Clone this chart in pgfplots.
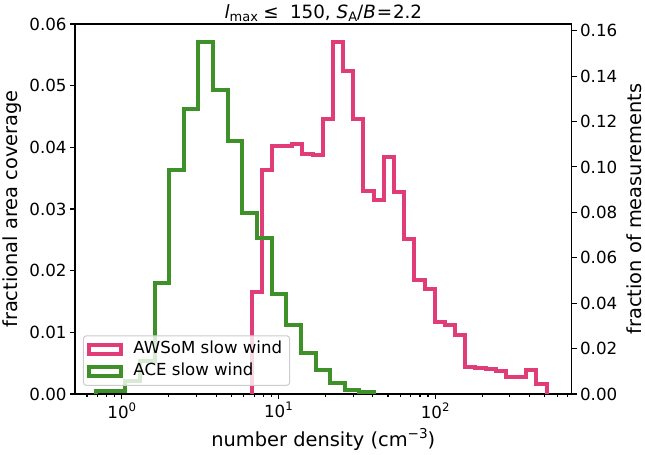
\documentclass[border=0pt]{standalone}
\usepackage{fontspec}
\setmainfont{DejaVu Sans}
\usepackage{pgfplots}
\pgfplotsset{compat=1.18}
\usetikzlibrary{calc}
\definecolor{awsom}{RGB}{224,60,120}
\definecolor{ace}{RGB}{61,145,40}
\newcommand{\sx}[1]{10\raisebox{7bp}{\fontsize{11.7bp}{12bp}\selectfont #1}}
\newcommand{\sub}[1]{\raisebox{-3.2bp}{\fontsize{13bp}{13bp}\selectfont #1}}
\begin{document}
\begin{tikzpicture}
\pgfplotsset{
  every axis/.append style={
    scale only axis, width=496.7bp, height=370bp,
    xmode=log, xmin=0.503, xmax=744,
    axis line style={line width=1.1bp, black},
    every tick/.style={line width=1.1bp, black},
    major tick length=4.9bp, minor tick length=2.8bp,
    tick align=outside,
    scaled ticks=false,
    ticklabel style={font=\fontsize{16.7bp}{20bp}\selectfont},
    /pgf/number format/assume math mode=true,
    label style={font=\fontsize{19.4bp}{23bp}\selectfont},
  },
  every axis title/.style={at={(axis description cs:0.5,1.0162)}, anchor=base, font=\fontsize{18.3bp}{20bp}\selectfont},
  hist/.style={const plot mark left, no markers, line width=4bp, line join=miter},
}
\begin{axis}[
  ymin=0, ymax=0.06,
  xtick={1,10,100},
  xticklabels={\sx{0},\sx{1},\sx{2}},
  minor xtick={0.6,0.7,0.8,0.9,2,3,4,5,6,7,8,9,20,30,40,50,60,70,80,90,200,300,400,500,600,700},
  xtick pos=left, ytick pos=left,
  ytick={0,0.01,0.02,0.03,0.04,0.05,0.06},
  yticklabel style={/pgf/number format/.cd, fixed, fixed zerofill, precision=2},
  xlabel={number density (cm\raisebox{8bp}{\fontsize{13.6bp}{14bp}\selectfont −3})},
  xlabel style={at={(axis description cs:0.5,-0.1424)}, anchor=base},
  ylabel={fractional area coverage},
  ylabel style={at={(axis description cs:-0.1148,0.5)}, anchor=base, rotate=0},
  title={\textit{l}\sub{max}\hspace{0.3em}≤\hspace{0.3em} 150, \textit{S}\sub{A}/\textit{B}\hspace{0.05em}=\hspace{0.05em}2.2},
]
\coordinate (SW) at (rel axis cs:0,0);
\coordinate (NE) at (rel axis cs:1,1);
\addplot[hist, awsom] coordinates {
(6.730,0) (6.730,0.0166) (7.816,0.0364) (9.077,0.0402) (10.540,0.0402) (12.241,0.0406)
(14.215,0.0390) (16.508,0.0387) (19.171,0.0446) (22.264,0.0571) (25.855,0.0523)
(30.026,0.0446) (34.870,0.0329) (40.495,0.0314) (47.027,0.0384) (54.613,0.0327)
(63.423,0.0252) (73.654,0.0185) (85.536,0.0170) (99.335,0.0116) (115.36,0.0112)
(133.97,0.0096) (155.58,0.0044) (180.68,0.0042) (209.82,0.0040) (243.67,0.0038)
(282.98,0.0027) (328.63,0.0027) (381.64,0.0039) (443.2,0.0016) (514.69,0)
};
\end{axis}
\begin{axis}[
  ymin=0, ymax=0.16295,
  axis x line=none,
  axis y line*=right,
  ytick={0,0.02,0.04,0.06,0.08,0.10,0.12,0.14,0.16},
  yticklabel style={/pgf/number format/.cd, fixed, fixed zerofill, precision=2},
  ylabel={fraction of measurements},
  ylabel style={at={(axis description cs:1.1409,0.5)}, anchor=base, rotate=0},
  legend cell align=left,
  legend image code/.code={\draw[#1, line width=4bp, fill=none, sharp corners, line join=miter] (0bp,-4.5bp) rectangle (32bp,4.5bp);},
  legend style={at={(axis description cs:0.016,0.022)}, anchor=south west,
    draw=black!20, line width=1bp, rounded corners=3bp, fill=white, fill opacity=0.8, text opacity=1,
    font=\fontsize{16.6bp}{19bp}\selectfont,
    inner xsep=4bp, inner ysep=2.5bp, row sep=0bp,
    nodes={inner sep=3.5bp, text height=11.8bp, text depth=3.5bp},
    /tikz/every odd column/.append style={column sep=6.5bp}},
]
\addlegendimage{hist, awsom}
\addlegendentry{AWSoM slow wind}
\addplot[hist, ace] coordinates {
(0.6855,0) (0.6855,0.00145) (0.8498,0.00145) (1.0537,0.00573) (1.3065,0.01453)
(1.6199,0.04875) (2.0084,0.09878) (2.4901,0.12539) (3.0874,0.15503) (3.8279,0.13402)
(4.7460,0.11129) (5.8844,0.07958) (7.2957,0.06884) (9.0457,0.04404) (11.217,0.03052)
(13.905,0.01819) (17.241,0.01057) (21.376,0.00471) (26.503,0.00176) (32.860,0.00101)
(40.741,0)
};
\addlegendentry{ACE slow wind}
\end{axis}
\pgfresetboundingbox
\path[use as bounding box] ($(SW)+(-75bp,-61bp)$) rectangle ($(NE)+(73.3bp,24bp)$);
\end{tikzpicture}
\end{document}
